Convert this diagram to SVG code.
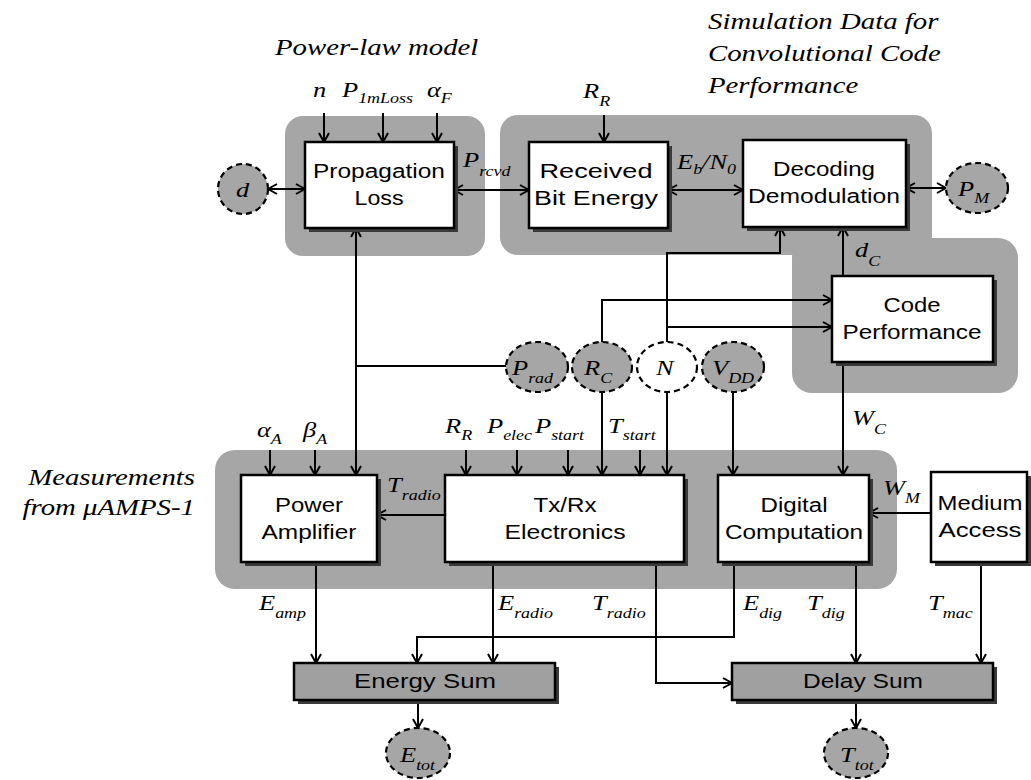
<svg xmlns="http://www.w3.org/2000/svg" width="1031" height="780" viewBox="0 0 1031 780">
<style>
.panel{fill:#a6a6a6;stroke:none}
.box{fill:#fff;stroke:#000;stroke-width:2.5}
.sumbox{fill:#a0a0a0;stroke:#000;stroke-width:2.5}
.shadow{fill:#3a3a3a}
.ell{fill:#a6a6a6;stroke:#000;stroke-width:2.2;stroke-dasharray:6 4}
.ellw{fill:#fff;stroke:#000;stroke-width:2.2;stroke-dasharray:6 4}
.c{fill:none;stroke:#000;stroke-width:2}
.a{marker-end:url(#ah)}
.aa{marker-end:url(#ah);marker-start:url(#ah)}
.b{font-family:"Liberation Sans",Arial,sans-serif;font-size:20px;text-anchor:middle;fill:#000}
.v{font-family:"Liberation Serif","Times New Roman",serif;font-style:italic;font-size:22px;fill:#000}
.s{font-size:15px}
.g{font-family:"Liberation Serif","Times New Roman",serif;font-style:italic;font-size:24px;fill:#000}
</style>
<defs>
<marker id="ah" markerUnits="userSpaceOnUse" markerWidth="12" markerHeight="12" refX="10" refY="6" orient="auto-start-reverse">
<path d="M1,1 L10,6 L1,11" fill="none" stroke="#000" stroke-width="2"/>
</marker>
</defs>

<!-- group panels -->
<g id="panels">
<rect class="panel" x="285" y="116" width="200" height="140" rx="18"/>
<rect class="panel" x="500" y="115" width="432" height="140" rx="18"/>
<rect class="panel" x="792" y="238" width="226" height="155" rx="20"/>
<rect class="panel" x="790" y="225" width="142" height="30"/>
<rect class="panel" x="215" y="450" width="682" height="139" rx="20"/>
</g>

<!-- group labels -->
<g id="group-labels">
<text class="g" transform="matrix(1.2 0 0 1 275 55)">Power-law model</text>
<text class="g" transform="matrix(1.2 0 0 1 708 29)">Simulation Data for</text>
<text class="g" transform="matrix(1.2 0 0 1 708 61)">Convolutional Code</text>
<text class="g" transform="matrix(1.2 0 0 1 708 93)">Performance</text>
<text class="g" text-anchor="end" transform="matrix(1.2 0 0 1 195 485)">Measurements</text>
<text class="g" text-anchor="end" transform="matrix(1.2 0 0 1 195 515)">from μAMPS-1</text>
</g>

<!-- connectors -->
<g id="connectors">
<path class="c a" d="M324,113 V142"/>
<path class="c a" d="M383,113 V142"/>
<path class="c a" d="M437,113 V142"/>
<path class="c aa" d="M268,189 H305"/>
<path class="c aa" d="M454,190 H529"/>
<path class="c a" d="M604,115 V142"/>
<path class="c aa" d="M668,190 H743"/>
<path class="c aa" d="M906,188 H946"/>
<path class="c a" d="M843,276 V227"/>
<path class="c a" d="M667,342 V253 H780 V227"/>
<path class="c a" d="M667,327 H832"/>
<path class="c a" d="M602,342 V300 H832"/>
<path class="c aa" d="M356,228 V475"/>
<path class="c" d="M506,366 H356"/>
<path class="c a" d="M843,362 V475"/>
<path class="c a" d="M733,392 V475"/>
<path class="c a" d="M602,392 V475"/>
<path class="c a" d="M667,392 V475"/>
<path class="c a" d="M466,450 V475"/>
<path class="c a" d="M517,450 V475"/>
<path class="c a" d="M568,450 V475"/>
<path class="c a" d="M640,450 V475"/>
<path class="c a" d="M270,450 V475"/>
<path class="c a" d="M315,450 V475"/>
<path class="c a" d="M445,515 H377"/>
<path class="c a" d="M931,513 H869"/>
<path class="c a" d="M316,562 V663"/>
<path class="c a" d="M493,562 V663"/>
<path class="c a" d="M734,562 V637 H417 V663"/>
<path class="c a" d="M656,562 V683 H732"/>
<path class="c a" d="M856,562 V663"/>
<path class="c a" d="M981,562 V663"/>
<path class="c a" d="M418,700 V728"/>
<path class="c a" d="M856,700 V728"/>
</g>

<!-- nodes -->
<g id="propagation-loss">
<rect class="shadow" x="309" y="146" width="149" height="86"/>
<rect class="box" x="305" y="142" width="149" height="86"/>
<text class="b" x="379" y="178" textLength="132" lengthAdjust="spacingAndGlyphs">Propagation</text>
<text class="b" x="379" y="205" textLength="49" lengthAdjust="spacingAndGlyphs">Loss</text>
</g>
<g id="received-bit-energy">
<rect class="shadow" x="533" y="146" width="139" height="86"/>
<rect class="box" x="529" y="142" width="139" height="86"/>
<text class="b" x="596" y="178" textLength="113" lengthAdjust="spacingAndGlyphs">Received</text>
<text class="b" x="596" y="205" textLength="124" lengthAdjust="spacingAndGlyphs">Bit Energy</text>
</g>
<g id="decoding-demodulation">
<rect class="shadow" x="747" y="144" width="163" height="87"/>
<rect class="box" x="743" y="140" width="163" height="87"/>
<text class="b" x="824" y="176" textLength="102" lengthAdjust="spacingAndGlyphs">Decoding</text>
<text class="b" x="824" y="203" textLength="152" lengthAdjust="spacingAndGlyphs">Demodulation</text>
</g>
<g id="code-performance">
<rect class="shadow" x="836" y="280" width="161" height="86"/>
<rect class="box" x="832" y="276" width="161" height="86"/>
<text class="b" x="912" y="312" textLength="57" lengthAdjust="spacingAndGlyphs">Code</text>
<text class="b" x="912" y="339" textLength="139" lengthAdjust="spacingAndGlyphs">Performance</text>
</g>
<g id="power-amplifier">
<rect class="shadow" x="245" y="479" width="136" height="87"/>
<rect class="box" x="241" y="475" width="136" height="87"/>
<text class="b" x="309" y="512" textLength="68" lengthAdjust="spacingAndGlyphs">Power</text>
<text class="b" x="309" y="539" textLength="95" lengthAdjust="spacingAndGlyphs">Amplifier</text>
</g>
<g id="txrx-electronics">
<rect class="shadow" x="449" y="479" width="239" height="87"/>
<rect class="box" x="445" y="475" width="239" height="87"/>
<text class="b" x="565" y="512" textLength="63" lengthAdjust="spacingAndGlyphs">Tx/Rx</text>
<text class="b" x="565" y="539" textLength="121" lengthAdjust="spacingAndGlyphs">Electronics</text>
</g>
<g id="digital-computation">
<rect class="shadow" x="722" y="479" width="151" height="87"/>
<rect class="box" x="718" y="475" width="151" height="87"/>
<text class="b" x="794" y="512" textLength="67" lengthAdjust="spacingAndGlyphs">Digital</text>
<text class="b" x="794" y="539" textLength="138" lengthAdjust="spacingAndGlyphs">Computation</text>
</g>
<g id="medium-access">
<rect class="shadow" x="935" y="476" width="96" height="90"/>
<rect class="box" x="931" y="472" width="96" height="90"/>
<text class="b" x="980" y="510" textLength="85" lengthAdjust="spacingAndGlyphs">Medium</text>
<text class="b" x="980" y="537" textLength="83" lengthAdjust="spacingAndGlyphs">Access</text>
</g>
<g id="energy-sum">
<rect class="shadow" x="298" y="667" width="261" height="37"/>
<rect class="sumbox" x="294" y="663" width="261" height="37"/>
<text class="b" x="425" y="688" textLength="142" lengthAdjust="spacingAndGlyphs">Energy Sum</text>
</g>
<g id="delay-sum">
<rect class="shadow" x="736" y="667" width="261" height="37"/>
<rect class="sumbox" x="732" y="663" width="261" height="37"/>
<text class="b" x="863" y="688" textLength="120" lengthAdjust="spacingAndGlyphs">Delay Sum</text>
</g>

<!-- variable ellipses -->
<g id="var-d">
<ellipse class="ell" cx="243" cy="189" rx="25" ry="25"/>
<text class="v" transform="matrix(1.2 0 0 1 236 197)">d</text>
</g>
<g id="var-pm">
<ellipse class="ell" cx="977" cy="188" rx="31" ry="25"/>
<text class="v" transform="matrix(1.2 0 0 1 958 196)">P<tspan class="s" dy="7">M</tspan></text>
</g>
<g id="var-prad">
<ellipse class="ell" cx="537" cy="367" rx="31" ry="25"/>
<text class="v" transform="matrix(1.2 0 0 1 512 375)">P<tspan class="s" dy="8">rad</tspan></text>
</g>
<g id="var-rc">
<ellipse class="ell" cx="602" cy="367" rx="30" ry="25"/>
<text class="v" transform="matrix(1.2 0 0 1 584 375)">R<tspan class="s" dy="8">C</tspan></text>
</g>
<g id="var-n">
<ellipse class="ellw" cx="667" cy="367" rx="30" ry="25"/>
<text class="v" transform="matrix(1.2 0 0 1 656 375)">N</text>
</g>
<g id="var-vdd">
<ellipse class="ell" cx="733" cy="367" rx="31" ry="25"/>
<text class="v" transform="matrix(1.2 0 0 1 712 375)">V<tspan class="s" dy="8">DD</tspan></text>
</g>
<g id="var-etot">
<ellipse class="ell" cx="418" cy="753" rx="32" ry="25"/>
<text class="v" transform="matrix(1.2 0 0 1 400 762)">E<tspan class="s" dy="8">tot</tspan></text>
</g>
<g id="var-ttot">
<ellipse class="ell" cx="856" cy="753" rx="32" ry="25"/>
<text class="v" transform="matrix(1.2 0 0 1 840 762)">T<tspan class="s" dy="8">tot</tspan></text>
</g>

<!-- connector labels -->
<g id="labels">
<text class="v" transform="matrix(1.2 0 0 1 313 97)">n</text>
<text class="v" transform="matrix(1.2 0 0 1 342 97)">P<tspan class="s" dy="6">1mLoss</tspan></text>
<text class="v" transform="matrix(1.2 0 0 1 427 97)">α<tspan class="s" dy="6">F</tspan></text>
<text class="v" transform="matrix(1.2 0 0 1 583 98)">R<tspan class="s" dy="8">R</tspan></text>
<text class="v" transform="matrix(1.2 0 0 1 463 167)">P<tspan class="s" dy="9">rcvd</tspan></text>
<text class="v" transform="matrix(1.2 0 0 1 677 169)">E<tspan class="s" dy="5">b</tspan><tspan dy="-5">/N</tspan><tspan class="s" dy="5">0</tspan></text>
<text class="v" transform="matrix(1.2 0 0 1 855 257)">d<tspan class="s" dy="9">C</tspan></text>
<text class="v" transform="matrix(1.2 0 0 1 852 425)">W<tspan class="s" dy="9">C</tspan></text>
<text class="v" transform="matrix(1.2 0 0 1 257 437)">α<tspan class="s" dy="7">A</tspan></text>
<text class="v" transform="matrix(1.2 0 0 1 303 437)">β<tspan class="s" dy="7">A</tspan></text>
<text class="v" transform="matrix(1.2 0 0 1 445 433)">R<tspan class="s" dy="7">R</tspan></text>
<text class="v" transform="matrix(1.2 0 0 1 487 433)">P<tspan class="s" dy="7">elec</tspan></text>
<text class="v" transform="matrix(1.2 0 0 1 535 433)">P<tspan class="s" dy="7">start</tspan></text>
<text class="v" transform="matrix(1.2 0 0 1 608 433)">T<tspan class="s" dy="7">start</tspan></text>
<text class="v" transform="matrix(1.2 0 0 1 387 492)">T<tspan class="s" dy="8">radio</tspan></text>
<text class="v" transform="matrix(1.2 0 0 1 883 495)">W<tspan class="s" dy="8">M</tspan></text>
<text class="v" transform="matrix(1.2 0 0 1 259 610)">E<tspan class="s" dy="8">amp</tspan></text>
<text class="v" transform="matrix(1.2 0 0 1 498 610)">E<tspan class="s" dy="8">radio</tspan></text>
<text class="v" transform="matrix(1.2 0 0 1 592 610)">T<tspan class="s" dy="8">radio</tspan></text>
<text class="v" transform="matrix(1.2 0 0 1 743 610)">E<tspan class="s" dy="8">dig</tspan></text>
<text class="v" transform="matrix(1.2 0 0 1 807 610)">T<tspan class="s" dy="8">dig</tspan></text>
<text class="v" transform="matrix(1.2 0 0 1 928 610)">T<tspan class="s" dy="8">mac</tspan></text>
</g>
</svg>
